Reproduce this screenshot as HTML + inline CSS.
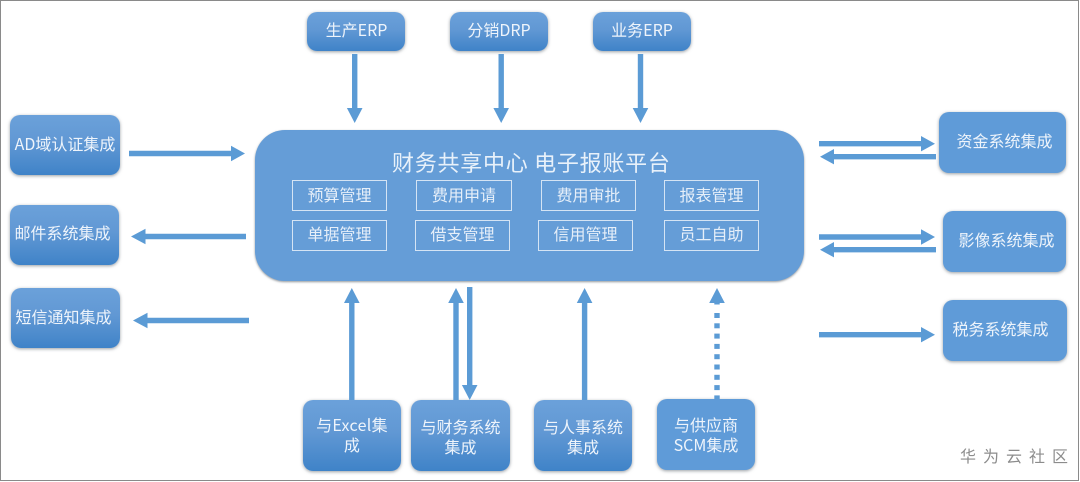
<!DOCTYPE html>
<html lang="zh">
<head>
<meta charset="utf-8">
<style>
html,body{margin:0;padding:0;background:#fff}
#c{position:relative;width:1080px;height:482px;overflow:hidden;background:#fff;font-family:"Noto Sans CJK SC","Liberation Sans",sans-serif;color:#eef4fb}
#f{position:absolute;left:0;top:0;width:1077px;height:479px;border:1.5px solid #8a8a8a}
.b{position:absolute;box-sizing:border-box;border-radius:10px;box-shadow:0 1px 3px rgba(70,80,90,.55);font-size:16px;line-height:20px;text-align:center;white-space:nowrap}
.g{background:linear-gradient(#6ba1da,#6198d4 45%,#3f83c8)}
.s{background:#5f9bd8}
.t{position:absolute;white-space:nowrap;font-size:16px;line-height:21px}
.i{position:absolute;box-sizing:border-box;border:1.2px solid #d5e4f4;font-size:16px;line-height:26px;text-align:center;color:#e6eff9}
svg{position:absolute;left:0;top:0}
</style>
</head>
<body>
<div id="c">
<div id="f"></div>

<div class="b" style="left:255px;top:130px;width:549px;height:151px;border-radius:30px;background:#659dd7;box-shadow:0 1px 2px rgba(70,80,90,.6)"></div>
<div class="t" style="left:392px;top:148px;font-size:22px;line-height:28px;letter-spacing:.75px;color:#e8f1fa">财务共享中心 电子报账平台</div>

<div class="i" style="left:292px;top:180px;width:95px;height:31px">预算管理</div>
<div class="i" style="left:416px;top:180px;width:96px;height:31px">费用申请</div>
<div class="i" style="left:541px;top:180px;width:95px;height:31px">费用审批</div>
<div class="i" style="left:664px;top:180px;width:95px;height:31px">报表管理</div>
<div class="i" style="left:292px;top:220px;width:95px;height:31px;line-height:25px">单据管理</div>
<div class="i" style="left:415px;top:220px;width:95px;height:31px;line-height:25px">借支管理</div>
<div class="i" style="left:538px;top:220px;width:95px;height:31px;line-height:25px">信用管理</div>
<div class="i" style="left:664px;top:220px;width:95px;height:31px;line-height:25px">员工自助</div>

<div class="b g" style="left:307px;top:12px;width:98px;height:39px;padding:7px 0 0 1px">生产ERP</div>
<div class="b g" style="left:450px;top:12px;width:98px;height:39px;padding-top:7px">分销DRP</div>
<div class="b g" style="left:593px;top:12px;width:98px;height:39px;padding-top:7px">业务ERP</div>

<div class="b g" style="left:10px;top:115px;width:110px;height:60px;padding-top:18px">AD域认证集成</div>
<div class="b g" style="left:10px;top:205px;width:109px;height:60px;padding:17px 4px 0 0">邮件系统集成</div>
<div class="b g" style="left:11px;top:288px;width:109px;height:60px;padding:18px 4px 0 0">短信通知集成</div>

<div class="b s" style="left:939px;top:112px;width:127px;height:61px;padding:18px 0 0 4px">资金系统集成</div>
<div class="b s" style="left:943px;top:211px;width:123px;height:61px;padding:18px 0 0 4px">影像系统集成</div>
<div class="b s" style="left:943px;top:300px;width:124px;height:61px;padding:18px 9px 0 0">税务系统集成</div>

<div class="b g" style="left:303px;top:400px;width:98px;height:71px;padding-top:14px;letter-spacing:.3px">与Excel集<br>成</div>
<div class="b g" style="left:411px;top:400px;width:99px;height:71px;padding-top:16px">与财务系统<br>集成</div>
<div class="b g" style="left:534px;top:400px;width:98px;height:71px;padding-top:16px">与人事系统<br>集成</div>
<div class="b s" style="left:657px;top:399px;width:98px;height:71px;padding-top:15px">与供应商<br>SCM集成</div>

<div class="t" style="left:960px;top:445px;color:#8c8c8c;letter-spacing:7px;font-size:16px">华为云社区</div>

<svg width="1080" height="482" viewBox="0 0 1080 482" fill="#5b9bd5">
<!-- top, down -->
<path d="M352 54h5.400v54h5.100l-7.800 15-7.800-15h5.100z"/>
<path d="M498.500 54h5.400v54h5.100l-7.800 15-7.800-15h5.100z"/>
<path d="M637.800 54h5.400v54h5.100l-7.800 15-7.800-15h5.100z"/>
<!-- left column -->
<path d="M129 150.800h102v-5l14 7.700-14 7.700v-5H129z"/>
<path d="M246 233.800v5.400H145.500v5l-14.500-7.700 14.500-7.700v5z"/>
<path d="M249 317.800v5.400H147.500v5l-14.500-7.700 14.500-7.700v5z"/>
<!-- bottom, up -->
<path d="M349.100 400v-97h-5.100l7.800-15 7.800 15h-5.100v97z"/>
<path d="M453.300 400v-97h-5.100l7.800-15 7.800 15h-5.100v97z"/>
<path d="M581.900 400v-97h-5.100l7.800-15 7.800 15h-5.100v97z"/>
<!-- bottom, down -->
<path d="M467 287h5.400v98h5.100l-7.800 15-7.800-15h5.100z"/>
<!-- dotted -->
<path d="M709.200 303l7.800-15 7.800 15h-5.100v1.500h-5.400v-1.500z"/>
<g>
<rect x="714.300" y="313" width="5.400" height="5"/><rect x="714.300" y="323.300" width="5.400" height="5"/><rect x="714.300" y="333.600" width="5.400" height="5"/><rect x="714.300" y="343.900" width="5.400" height="5"/><rect x="714.300" y="354.200" width="5.400" height="5"/><rect x="714.300" y="364.500" width="5.400" height="5"/><rect x="714.300" y="374.800" width="5.400" height="5"/><rect x="714.300" y="385.100" width="5.400" height="5"/><rect x="714.300" y="395.400" width="5.400" height="4"/>
</g>
<!-- right column -->
<path d="M819 141h102v-5l14 7.700-14 7.700v-5H819z"/>
<path d="M936 154v5.400H834v5l-14-7.700 14-7.700v5z"/>
<path d="M819 234.300h102v-5l14 7.700-14 7.700v-5H819z"/>
<path d="M936 247v5.400H834v5l-14-7.700 14-7.700v5z"/>
<path d="M819 332h102v-5l14 7.700-14 7.700v-5H819z"/>
</svg>
</div>
</body>
</html>
